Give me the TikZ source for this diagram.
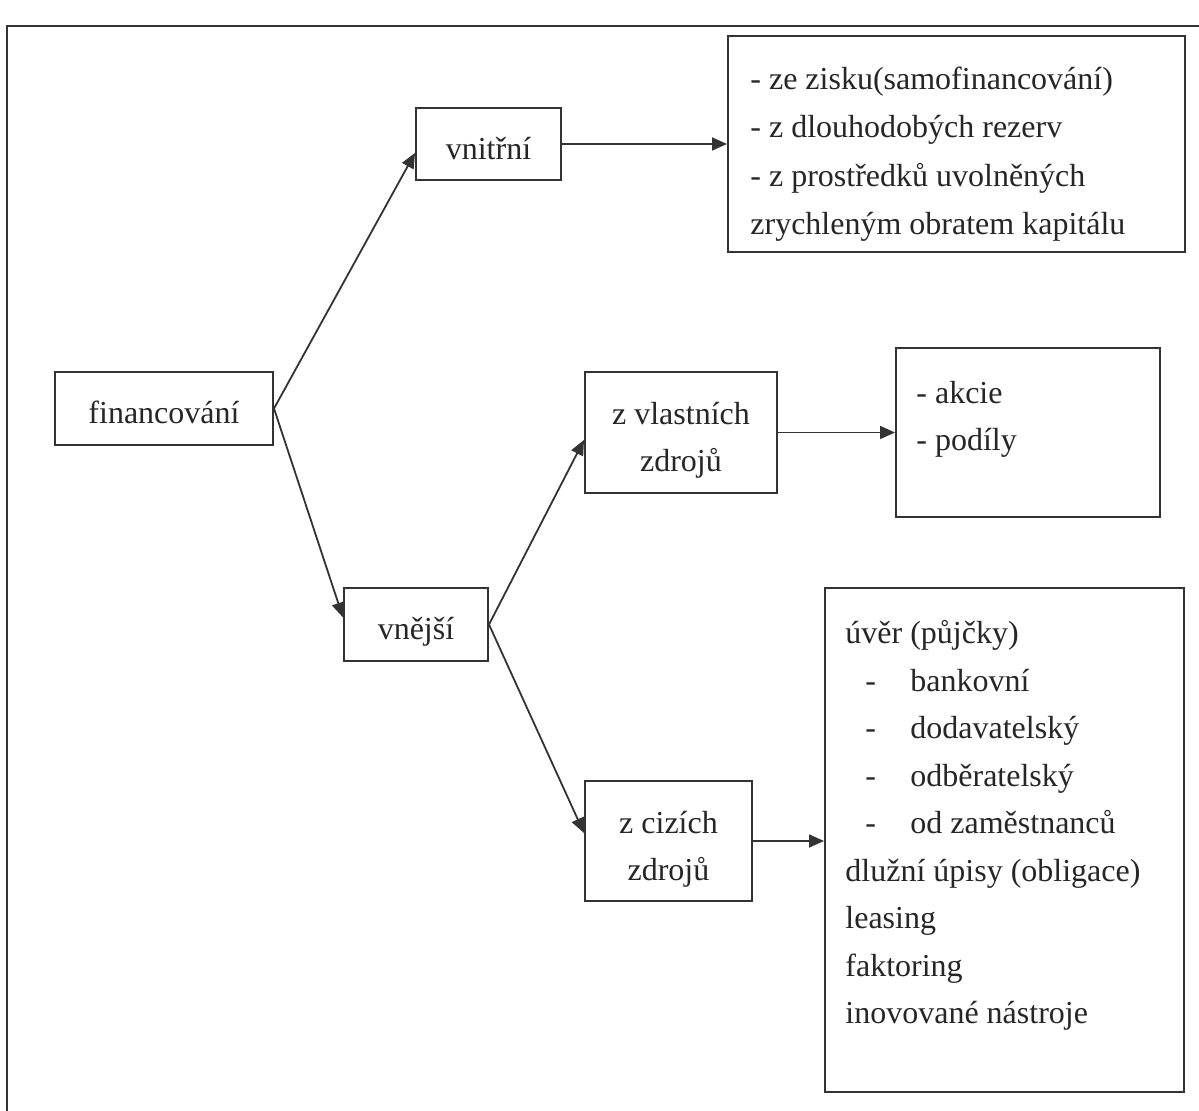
\documentclass[tikz,border=0pt]{standalone}
\usepackage{fontspec}
\setmainfont{Liberation Serif}
\usetikzlibrary{arrows.meta}

\begin{document}
\begin{tikzpicture}[x=0.5pt, y=-0.5pt, font=\fontsize{16}{23.5}\selectfont,
    box/.style={draw=black!80, line width=1pt, rectangle, inner sep=0pt, align=center, text=black!85,
      text height=19pt, text depth=3.5pt},
    twoline/.style={box, text height=42.5pt},
    txt/.style={anchor=mid west, inner sep=0pt, text=black!85},
    arr/.style={->, >={Triangle[length=7.5pt, width=6.5pt]}, draw=black!80, line width=0.9pt}]
      \useasboundingbox (0,0) rectangle (1199,1111);
      \draw[black!80, line width=1.2pt] (7,1111) -- (7,26) -- (1199,26);
      %
      \node[box, minimum width=109pt, minimum height=36.5pt] (fin) at (164,408.5) {financování};
      \node[box, minimum width=72.5pt, minimum height=36pt] (vnitrni) at (488.5,144) {vnitřní};
      \node[box, minimum width=72pt, minimum height=36.5pt] (vnejsi) at (416,624.5) {vnější};
      \node[twoline, minimum width=96pt, minimum height=60.5pt] (vlast) at (681,432.5) {z vlastních\\zdrojů};
      \node[twoline, minimum width=83.5pt, minimum height=60pt] (cizi) at (668.5,841) {z cizích\\zdrojů};
      \node[box, minimum width=228.5pt, minimum height=108pt] (zdrvn) at (956.5,144) {};
      \node[box, minimum width=132pt, minimum height=84.5pt] (zdrvl) at (1028,432.5) {};
      \node[box, minimum width=179.5pt, minimum height=252pt] (zdrci) at (1004.5,840) {};
      %
      \foreach \t [count=\i] in {- ze zisku(samofinancování), - z dlouhodobých rezerv, - z prostředků uvolněných, zrychleným obratem kapitálu}
        \node[txt] (vn\i) at (750,36+48.5*\i) {\t};
      \foreach \t [count=\i] in {- akcie, - podíly}
        \node[txt] (vl\i) at (916,352+47*\i) {\t};
      \node[txt] (ci1) at (845,639) {úvěr (půjčky)};
      \foreach \t [count=\i from 2] in {bankovní, dodavatelský, odběratelský, od zaměstnanců}
        \node[txt] (ci\i) at (865,591.5+47.5*\i) {\makebox[22.5pt][l]{-}\t};
      \foreach \t [count=\i from 6] in {dlužní úpisy (obligace), leasing, faktoring, inovované nástroje}
        \node[txt] (ci\i) at (845,591.5+47.5*\i) {\t};
      %
      \draw[arr] (fin.east) -- ([yshift=-4.5pt]vnitrni.west);
      \draw[arr] (fin.east) -- ([yshift=3.5pt]vnejsi.west);
      \draw[arr] (vnitrni.east) -- (vnitrni.east -| zdrvn.west);
      \draw[arr] (vnejsi.east) -- ([yshift=-3.75pt]vlast.west);
      \draw[arr] (vnejsi.east) -- ([yshift=4pt]cizi.west);
      \draw[arr] (vlast.east) -- (vlast.east -| zdrvl.west);
      \draw[arr] (cizi.east) -- (cizi.east -| zdrci.west);
    \end{tikzpicture}
\end{document}
